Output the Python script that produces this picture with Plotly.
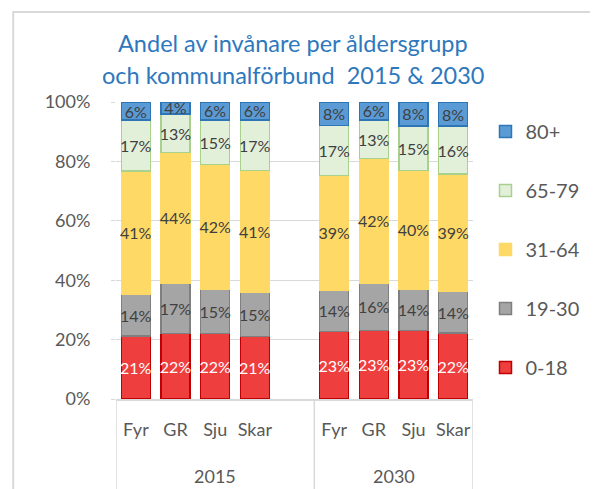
import plotly.graph_objects as go

# ---- data ----
kommuner = ["Fyr", "GR", "Sju", "Skar"]
years = ["2015", "2030"]
age_groups = ["0-18", "19-30", "31-64", "65-79", "80+"]

v_0_18 = [21, 22, 22, 21, 23, 23, 23, 22]
v_19_30 = [14, 17, 15, 15, 14, 16, 14, 14]
v_31_64 = [41, 44, 42, 41, 39, 42, 40, 39]
v_65_79 = [17, 13, 15, 17, 17, 13, 15, 16]
v_80 = [6, 4, 6, 6, 8, 6, 8, 8]

title_lines = ["Andel av invånare per åldersgrupp",
               "och kommunalförbund  2015 & 2030"]

series = [v_0_18, v_19_30, v_31_64, v_65_79, v_80]
fills = ["#ef3e3e", "#a5a5a5", "#ffd966", "#e2efd9", "#5b9bd5"]
lines = ["#c00000", "#7f7f7f", "#ffd966", "#a9d18e", "#2e75b6"]
txtcol = ["white", "#404040", "#404040", "#404040", "#404040"]

# positions: 4 bars per year, one empty slot between groups
xpos = [0, 1, 2, 3, 5, 6, 7, 8]
xlabels = kommuner + kommuner

FONT = "Lato"
GRID = "#d9d9d9"

fig = go.Figure()
n = len(age_groups)
for i, (name, vals, fc, lc, tc) in enumerate(zip(age_groups, series, fills, lines, txtcol)):
    fig.add_trace(go.Bar(
        x=xpos, y=vals, name=name, legendgroup=name, legendrank=n - i,
        marker=dict(color=fc, line=dict(color=lc, width=1.5)),
        width=0.73,
        text=[f"{v}%" for v in vals], texttemplate="%{text}",
        textposition="inside", insidetextanchor="middle", textangle=0,
        constraintext="none",
        textfont=dict(color=tc, size=16, family=FONT),
        hovertemplate=name + ": %{text}<extra></extra>",
    ))

fig.update_layout(
    width=590, height=481,
    barmode="stack", barnorm="percent",
    paper_bgcolor="white", plot_bgcolor="white",
    margin=dict(l=108, r=113, t=94, b=90),
    font=dict(family=FONT, color="#595959"),
    legend=dict(
        x=1.035, xanchor="left", y=0.966, yanchor="top",
        traceorder="grouped", tracegroupgap=30, maxheight=420,
        font=dict(size=20, color="#595959", family=FONT),
        bgcolor="rgba(0,0,0,0)",
    ),
    xaxis=dict(
        tickmode="array", tickvals=xpos, ticktext=xlabels,
        range=[-0.5, 8.5], showgrid=False, zeroline=False,
        showline=True, linecolor=GRID, linewidth=1.5,
        ticks="outside", ticklen=14, tickcolor="rgba(0,0,0,0)",
        tickfont=dict(size=18, color="#595959"),
        fixedrange=True,
    ),
    yaxis=dict(
        range=[0, 100], dtick=20, ticksuffix="%",
        showgrid=True, gridcolor=GRID, gridwidth=1.2, zeroline=False,
        ticks="outside", ticklen=4, tickcolor=GRID,
        ticklabelstandoff=17,
        tickfont=dict(size=18, color="#595959"),
        fixedrange=True,
    ),
    showlegend=True,
)

# title (two lines)
for txt, yy in zip(title_lines, [1.199, 1.091]):
    fig.add_annotation(x=0.495, y=yy, xref="paper", yref="paper", text=txt,
                       showarrow=False, xanchor="center", yanchor="middle",
                       font=dict(size=23.5, color="#2e78bd", family=FONT))

# year labels centred under their groups
year_centres = [(xpos[0] + xpos[3] + 1) / 2, (xpos[4] + xpos[7]) / 2]
for yr, xc in zip(years, year_centres):
    fig.add_annotation(x=xc, y=-0.26, xref="x", yref="paper", text=yr,
                       showarrow=False, font=dict(size=18, color="#595959"),
                       yanchor="middle")

# group dividers on the category axis
for xd in [-0.5, 4.5, 8.5]:
    fig.add_shape(type="line", xref="x", yref="paper", x0=xd, x1=xd,
                  y0=0, y1=-0.35, line=dict(color=GRID, width=1.5))

# chart border
fig.add_shape(type="rect", xref="paper", yref="paper",
              x0=-0.288, x1=1.5, y0=-0.5, y1=1.303,
              line=dict(color=GRID, width=2), fillcolor="rgba(0,0,0,0)",
              layer="below")

fig.write_html("out.html")
